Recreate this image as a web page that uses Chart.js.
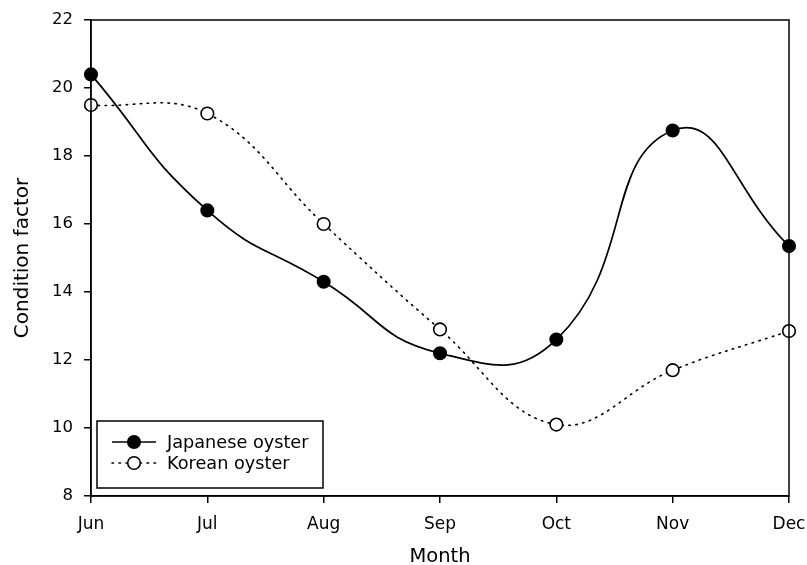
<!DOCTYPE html>
<html><head><meta charset="utf-8">
<script src="https://cdn.jsdelivr.net/npm/chart.js@4.4.0/dist/chart.umd.min.js"></script>
<style>html,body{margin:0;padding:0;background:#fff}#wrap{width:807px;height:565px}</style>
</head><body><div id="wrap"><canvas id="c" width="807" height="565"></canvas></div>
<script>
const months = ["Jun","Jul","Aug","Sep","Oct","Nov","Dec"];
const japanese = [20.4, 16.4, 14.3, 12.2, 12.6, 18.75, 15.35];
const korean = [19.5, 19.25, 16.0, 12.9, 10.1, 11.7, 12.85];
const yTicks = [8,10,12,14,16,18,20,22];
const seriesNames = ["Japanese oyster","Korean oyster"];

const FONT = "'DejaVu Sans', sans-serif";

const boxPlugin = {
  id: 'box',
  afterDraw(chart) {
    const {ctx, chartArea: a} = chart;
    ctx.save();
    ctx.strokeStyle = '#000'; ctx.lineWidth = 1.5;
    ctx.strokeRect(a.left, a.top, a.right - a.left, a.bottom - a.top);
    // legend
    const lx = 97, ly = 421, lw = 226, lh = 67;
    ctx.fillStyle = '#fff';
    ctx.fillRect(lx, ly, lw, lh);
    ctx.lineWidth = 1.5;
    ctx.strokeRect(lx, ly, lw, lh);
    const rows = [442, 463];
    chart.data.datasets.forEach((ds, i) => {
      const y = rows[i];
      ctx.beginPath();
      ctx.setLineDash(ds.borderDash || []);
      ctx.lineCap = ds.borderDash ? 'round' : 'butt';
      ctx.lineWidth = ds.borderWidth;
      ctx.strokeStyle = '#000';
      ctx.moveTo(112, y); ctx.lineTo(156, y); ctx.stroke();
      ctx.setLineDash([]);
      ctx.beginPath();
      ctx.arc(134, y, ds.pointRadius, 0, Math.PI*2);
      ctx.fillStyle = ds.pointBackgroundColor;
      ctx.fill();
      ctx.lineWidth = ds.pointBorderWidth;
      ctx.stroke();
      ctx.fillStyle = '#000';
      ctx.font = "17.7px " + FONT;
      ctx.textBaseline = 'middle';
      ctx.textAlign = 'left';
      ctx.fillText(ds.label, 167, y + 1);
    });
    ctx.restore();
  }
};

new Chart(document.getElementById('c'), {
  type: 'line',
  data: {
    labels: months,
    datasets: [
      {
        label: seriesNames[0], data: japanese,
        borderColor: '#000', borderWidth: 1.7,
        pointRadius: 6.3, pointBackgroundColor: '#000', pointBorderColor: '#000', pointBorderWidth: 1.5,
        tension: 0.5, clip: false
      },
      {
        label: seriesNames[1], data: korean,
        borderColor: '#000', borderWidth: 1.6, borderDash: [1.5, 5.5], borderCapStyle: 'round',
        pointRadius: 6.3, pointBackgroundColor: '#fff', pointBorderColor: '#000', pointBorderWidth: 1.6,
        tension: 0.4, clip: false
      }
    ]
  },
  options: {
    responsive: false, animation: false, devicePixelRatio: 1,
    layout: { padding: { left: 0, right: 18, top: 20, bottom: 0 } },
    plugins: { legend: { display: false }, tooltip: { enabled: false } },
    scales: {
      x: {
        type: 'category', offset: false,
        grid: { drawOnChartArea: false, drawTicks: true, tickLength: 7, color: '#000', lineWidth: 1.5 },
        border: { display: true, color: '#000', width: 1.5 },
        ticks: { color: '#000', font: { family: FONT, size: 17 }, padding: 11, maxRotation: 0 },
        title: { display: true, text: 'Month', color: '#000', font: { family: FONT, size: 19.5, lineHeight: 0.8 }, padding: { top: 0, bottom: 0 } },
        afterFit(s) { s.height = 69; s.paddingLeft = 0; s.paddingRight = 0; }
      },
      y: {
        min: 8, max: 22,
        afterBuildTicks(s) { s.ticks = yTicks.map(v => ({ value: v })); },
        grid: { drawOnChartArea: false, drawTicks: true, tickLength: 7, color: '#000', lineWidth: 1.5 },
        border: { display: true, color: '#000', width: 1.5 },
        ticks: { color: '#000', font: { family: FONT, size: 16.5 }, padding: 11 },
        title: { display: true, text: 'Condition factor', color: '#000', font: { family: FONT, size: 20 }, padding: { top: 11, bottom: 0 } },
        afterFit(s) { s.width = 91; s.paddingTop = 0; s.paddingBottom = 0; }
      }
    }
  },
  plugins: [boxPlugin]
});
</script>
</body></html>
